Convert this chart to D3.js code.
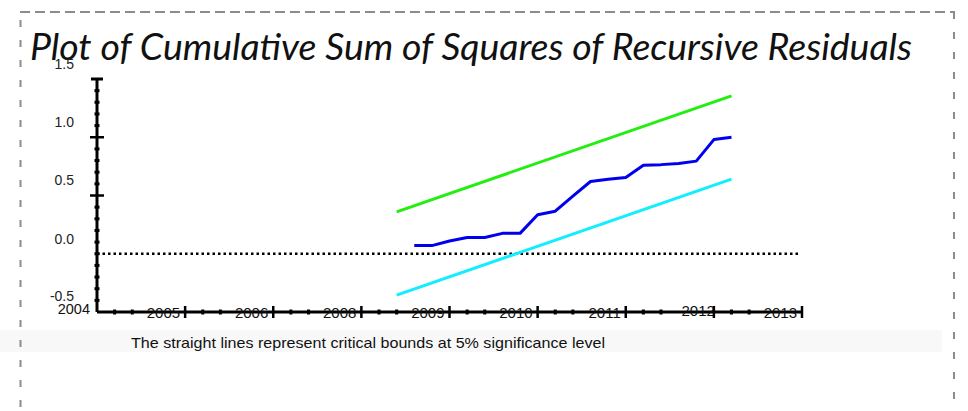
<!DOCTYPE html>
<html>
<head>
<meta charset="utf-8">
<script src="https://cdn.jsdelivr.net/npm/d3@7"></script>
<style>
  body { margin: 0; background: #fff; }
  svg { display: block; }
</style>
</head>
<body>
<div id="chart"></div>
<script>
// tick labels on the time axis (as printed, one per major tick)
const yearLabels = ['2004', '2005', '2006', '2008', '2009', '2010', '2011', '2012', '2013'];
const yTicks = [1.5, 1.0, 0.5, 0.0, -0.5];

// cusum of squares, positions in axis units
const cusumX = [3.6, 3.8, 4.0, 4.2, 4.4, 4.6, 4.8, 5.0, 5.2, 5.4, 5.6, 5.8, 6.0, 6.2, 6.4, 6.6, 6.8, 7.0, 7.2];
const cusumY = [0.07, 0.07, 0.11, 0.14, 0.14, 0.175, 0.175, 0.335, 0.365, 0.495, 0.62, 0.64, 0.655, 0.76, 0.765, 0.775, 0.795, 0.98, 1.0];

// 5% critical bounds
const boundX = [3.4, 7.2];
const upperY = [0.36, 1.355];
const lowerY = [-0.355, 0.64];

const width = 968, height = 411;

const svg = d3.select('#chart').append('svg')
    .attr('width', width)
    .attr('height', height);

// frame + footnote band
svg.append('rect')
    .attr('x', 0).attr('y', 330).attr('width', 942).attr('height', 22)
    .attr('fill', '#f8f8f8');

const dash = svg.append('g').attr('stroke', '#8c8c8c').attr('stroke-width', 2).attr('fill', 'none');
dash.append('line').attr('x1', 20).attr('x2', 955).attr('y1', 12).attr('y2', 12)
    .attr('stroke-dasharray', '10 5');
dash.append('line').attr('x1', 20.5).attr('x2', 20.5).attr('y1', 20).attr('y2', 411)
    .attr('stroke-dasharray', '7 13');
dash.append('line').attr('x1', 954).attr('x2', 954).attr('y1', 12).attr('y2', 411)
    .attr('stroke-dasharray', '7 13');

// title
svg.append('text')
    .attr('x', 30).attr('y', 60)
    .attr('font-family', 'Lato, "Open Sans", sans-serif')
    .attr('font-style', 'italic')
    .attr('font-weight', 400)
    .attr('font-size', 37)
    .attr('fill', '#111')
    .attr('textLength', 882)
    .attr('lengthAdjust', 'spacingAndGlyphs')
    .text('Plot of Cumulative Sum of Squares of Recursive Residuals');

const x = d3.scaleLinear().domain([0, 8]).range([97, 802]);
const y = d3.scaleLinear().domain([-0.5, 1.5]).range([312, 79]);

const plot = svg.append('g');

// zero reference line (dotted)
plot.append('line')
    .attr('x1', x(0)).attr('x2', 800)
    .attr('y1', y(0)).attr('y2', y(0))
    .attr('stroke', '#000').attr('stroke-width', 2.5)
    .attr('stroke-dasharray', '2.5 3');

// y axis
const yAxis = plot.append('g').attr('stroke', '#000');
yAxis.append('line')
    .attr('x1', x(0)).attr('x2', x(0)).attr('y1', y(1.5)).attr('y2', y(-0.5))
    .attr('stroke-width', 3);
yAxis.append('line')
    .attr('x1', x(0) - 6).attr('x2', x(0) + 6).attr('y1', y(1.5)).attr('y2', y(1.5))
    .attr('stroke-width', 3);
const yMinor = d3.range(-4, 15).map(d => d / 10).filter(d => Math.abs(d - 1) > 1e-6 && Math.abs(d - 0.5) > 1e-6);
yAxis.selectAll('.ymin').data(yMinor).join('line')
    .attr('class', 'ymin')
    .attr('x1', x(0) - 2.5).attr('x2', x(0) + 2.5)
    .attr('y1', d => y(d)).attr('y2', d => y(d))
    .attr('stroke-width', 3);
yAxis.selectAll('.ymaj').data([1.0, 0.5]).join('line')
    .attr('class', 'ymaj')
    .attr('x1', x(0) - 7).attr('x2', x(0) + 7)
    .attr('y1', d => y(d)).attr('y2', d => y(d))
    .attr('stroke-width', 2.5);

plot.selectAll('.ylab').data(yTicks).join('text')
    .attr('class', 'ylab')
    .attr('x', 74)
    .attr('y', d => y(d) - (d === -0.5 ? 16 : 15))
    .attr('dy', '0.35em')
    .attr('text-anchor', 'end')
    .attr('font-family', 'Liberation Sans, Arial, sans-serif')
    .attr('font-size', 14)
    .attr('fill', '#222')
    .text(d => d.toFixed(1));

// x axis
const xAxis = plot.append('g').attr('stroke', '#000');
xAxis.append('line')
    .attr('x1', x(0)).attr('x2', x(8)).attr('y1', y(-0.5)).attr('y2', y(-0.5))
    .attr('stroke-width', 3);
const xMinor = [];
d3.range(0, 8).forEach(i => { xMinor.push(i + 0.2, i + 0.4); });
xAxis.selectAll('.xmin').data(xMinor).join('line')
    .attr('class', 'xmin')
    .attr('x1', d => x(d)).attr('x2', d => x(d))
    .attr('y1', y(-0.5) - 2.5).attr('y2', y(-0.5) + 2.5)
    .attr('stroke-width', 3);
xAxis.selectAll('.xmaj').data(d3.range(1, 9)).join('line')
    .attr('class', 'xmaj')
    .attr('x1', d => x(d)).attr('x2', d => x(d))
    .attr('y1', y(-0.5) - 6).attr('y2', y(-0.5) + 6)
    .attr('stroke-width', 2.5);

plot.selectAll('.xlab').data(yearLabels).join('text')
    .attr('class', 'xlab')
    .attr('x', (d, i) => i === 0 ? x(i) - 7 : i === 7 ? x(i) + 1 : x(i) - 5)
    .attr('y', (d, i) => i === 0 ? y(-0.5) - 3 : i === 7 ? y(-0.5) - 1.5 : y(-0.5) + 0.5)
    .attr('dy', '0.35em')
    .attr('text-anchor', 'end')
    .attr('font-family', 'Liberation Sans, Arial, sans-serif')
    .attr('font-size', (d, i) => i === 0 ? 14.5 : 15)
    .attr('fill', '#111')
    .text(d => d);

// series
const line = d3.line().x(d => x(d[0])).y(d => y(d[1]));

plot.append('path')
    .datum(boundX.map((v, i) => [v, upperY[i]]))
    .attr('d', line)
    .attr('fill', 'none').attr('stroke', '#22ee11').attr('stroke-width', 3);

plot.append('path')
    .datum(boundX.map((v, i) => [v, lowerY[i]]))
    .attr('d', line)
    .attr('fill', 'none').attr('stroke', '#11eeff').attr('stroke-width', 3);

plot.append('path')
    .datum(cusumX.map((v, i) => [v, cusumY[i]]))
    .attr('d', line)
    .attr('fill', 'none').attr('stroke', '#0000ee').attr('stroke-width', 3)
    .attr('stroke-linejoin', 'round');

// footnote
svg.append('text')
    .attr('x', 131).attr('y', 343)
    .attr('dy', '0.35em')
    .attr('font-family', 'Liberation Sans, Arial, sans-serif')
    .attr('font-size', 14.5)
    .attr('fill', '#111')
    .attr('textLength', 474)
    .attr('lengthAdjust', 'spacingAndGlyphs')
    .text('The straight lines represent critical bounds at 5% significance level');
</script>
</body>
</html>
